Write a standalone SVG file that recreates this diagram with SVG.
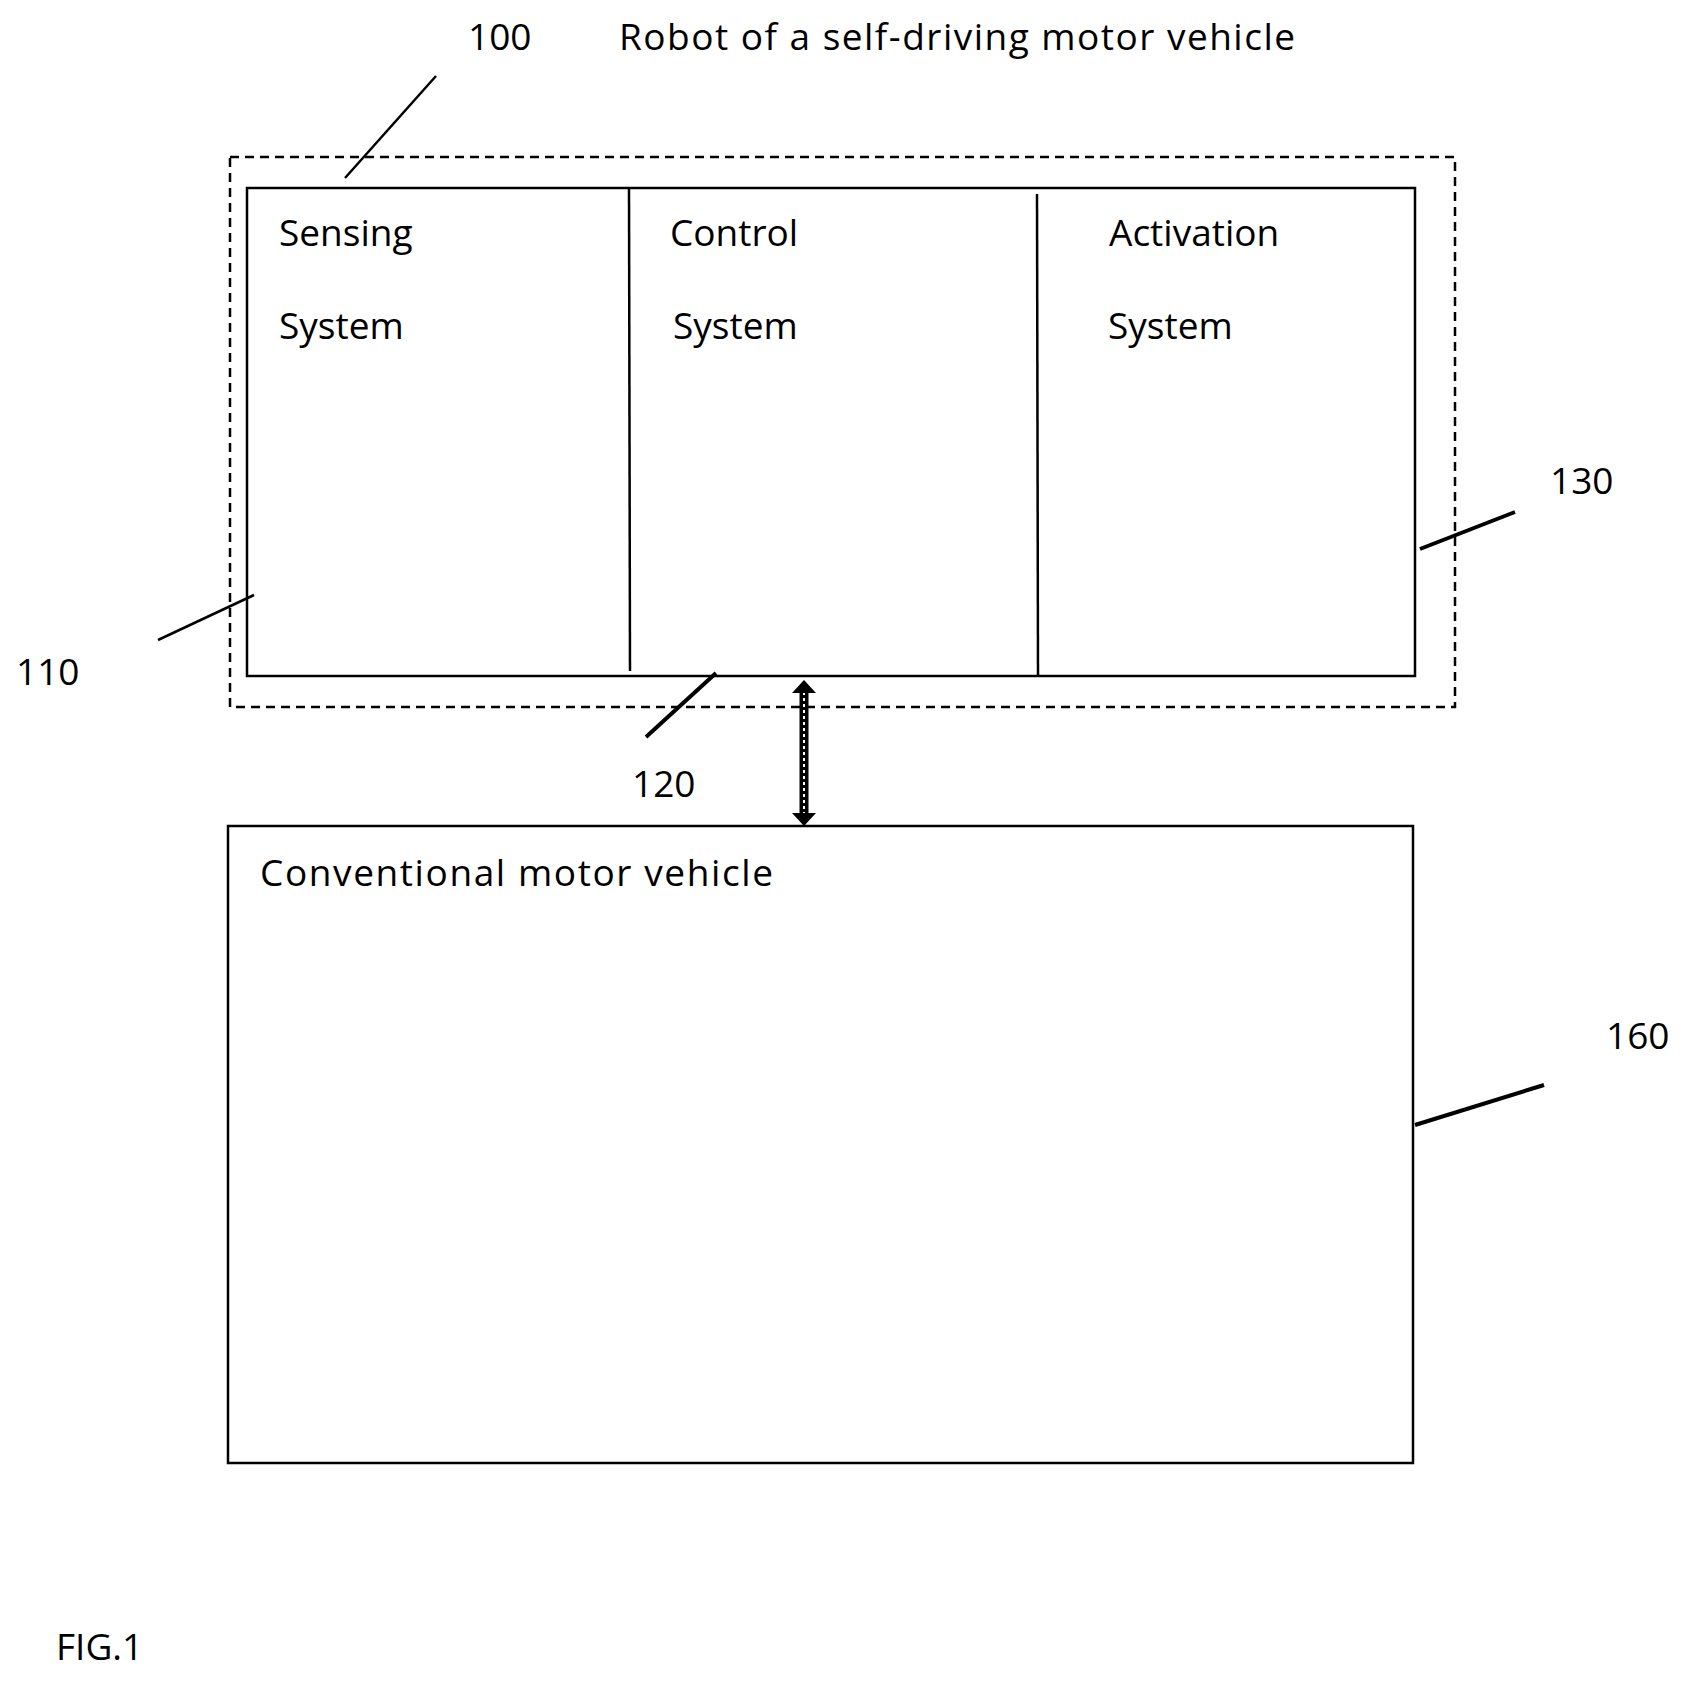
<svg xmlns="http://www.w3.org/2000/svg" width="1694" height="1682" viewBox="0 0 1694 1682">
<style>
text{font-family:"Open Sans","Liberation Sans",sans-serif;font-size:37px;fill:#000}
.b{fill:none;stroke:#000;stroke-width:2.5}
.l{stroke:#000;stroke-width:2.5}
.t{stroke:#000;stroke-width:4}
</style>
<rect width="1694" height="1682" fill="#fff"/>
<g id="robot">
<rect x="230" y="157" width="1225" height="550" fill="none" stroke="#000" stroke-width="2.5" stroke-dasharray="9,6"/>
<text x="468" y="50">100</text>
<text x="619" y="50" textLength="676">Robot of a self-driving motor vehicle</text>
</g>
<g id="systems">
<rect class="b" x="247" y="188" width="1168" height="488"/>
<line class="l" x1="629" y1="188" x2="630" y2="671"/>
<line class="l" x1="1037" y1="194" x2="1038" y2="676"/>
</g>
<g id="sensing"><text x="279" y="246">Sensing</text><text x="279" y="339">System</text></g>
<g id="control"><text x="670" y="246">Control</text><text x="673" y="339">System</text></g>
<g id="activation"><text x="1109" y="246">Activation</text><text x="1108" y="339">System</text></g>
<g id="vehicle">
<rect class="b" x="228" y="826" width="1185" height="637"/>
<text x="260" y="886" textLength="513">Conventional motor vehicle</text>
</g>
<g id="labels">
<text x="1550" y="494">130</text>
<text x="16" y="685">110</text>
<text x="632" y="797">120</text>
<text x="1606" y="1049">160</text>
<text x="56" y="1660">FIG.1</text>
</g>
<g id="connectors">
<line class="l" x1="436" y1="76" x2="345" y2="178"/>
<line class="l" x1="158" y1="640" x2="254" y2="595"/>
<line class="t" x1="646" y1="737" x2="716" y2="673"/>
<line class="t" x1="1420" y1="549" x2="1515" y2="512"/>
<line class="t" x1="1415" y1="1125" x2="1544" y2="1085"/>
<line x1="804" y1="690" x2="804" y2="815" stroke="#000" stroke-width="9"/>
<line x1="804" y1="692" x2="804" y2="813" stroke="#fff" stroke-width="2" stroke-dasharray="3,3"/>
<polygon points="804,680 792,693 816,693" fill="#000"/>
<polygon points="804,826 792,813 816,813" fill="#000"/>
</g>
</svg>
